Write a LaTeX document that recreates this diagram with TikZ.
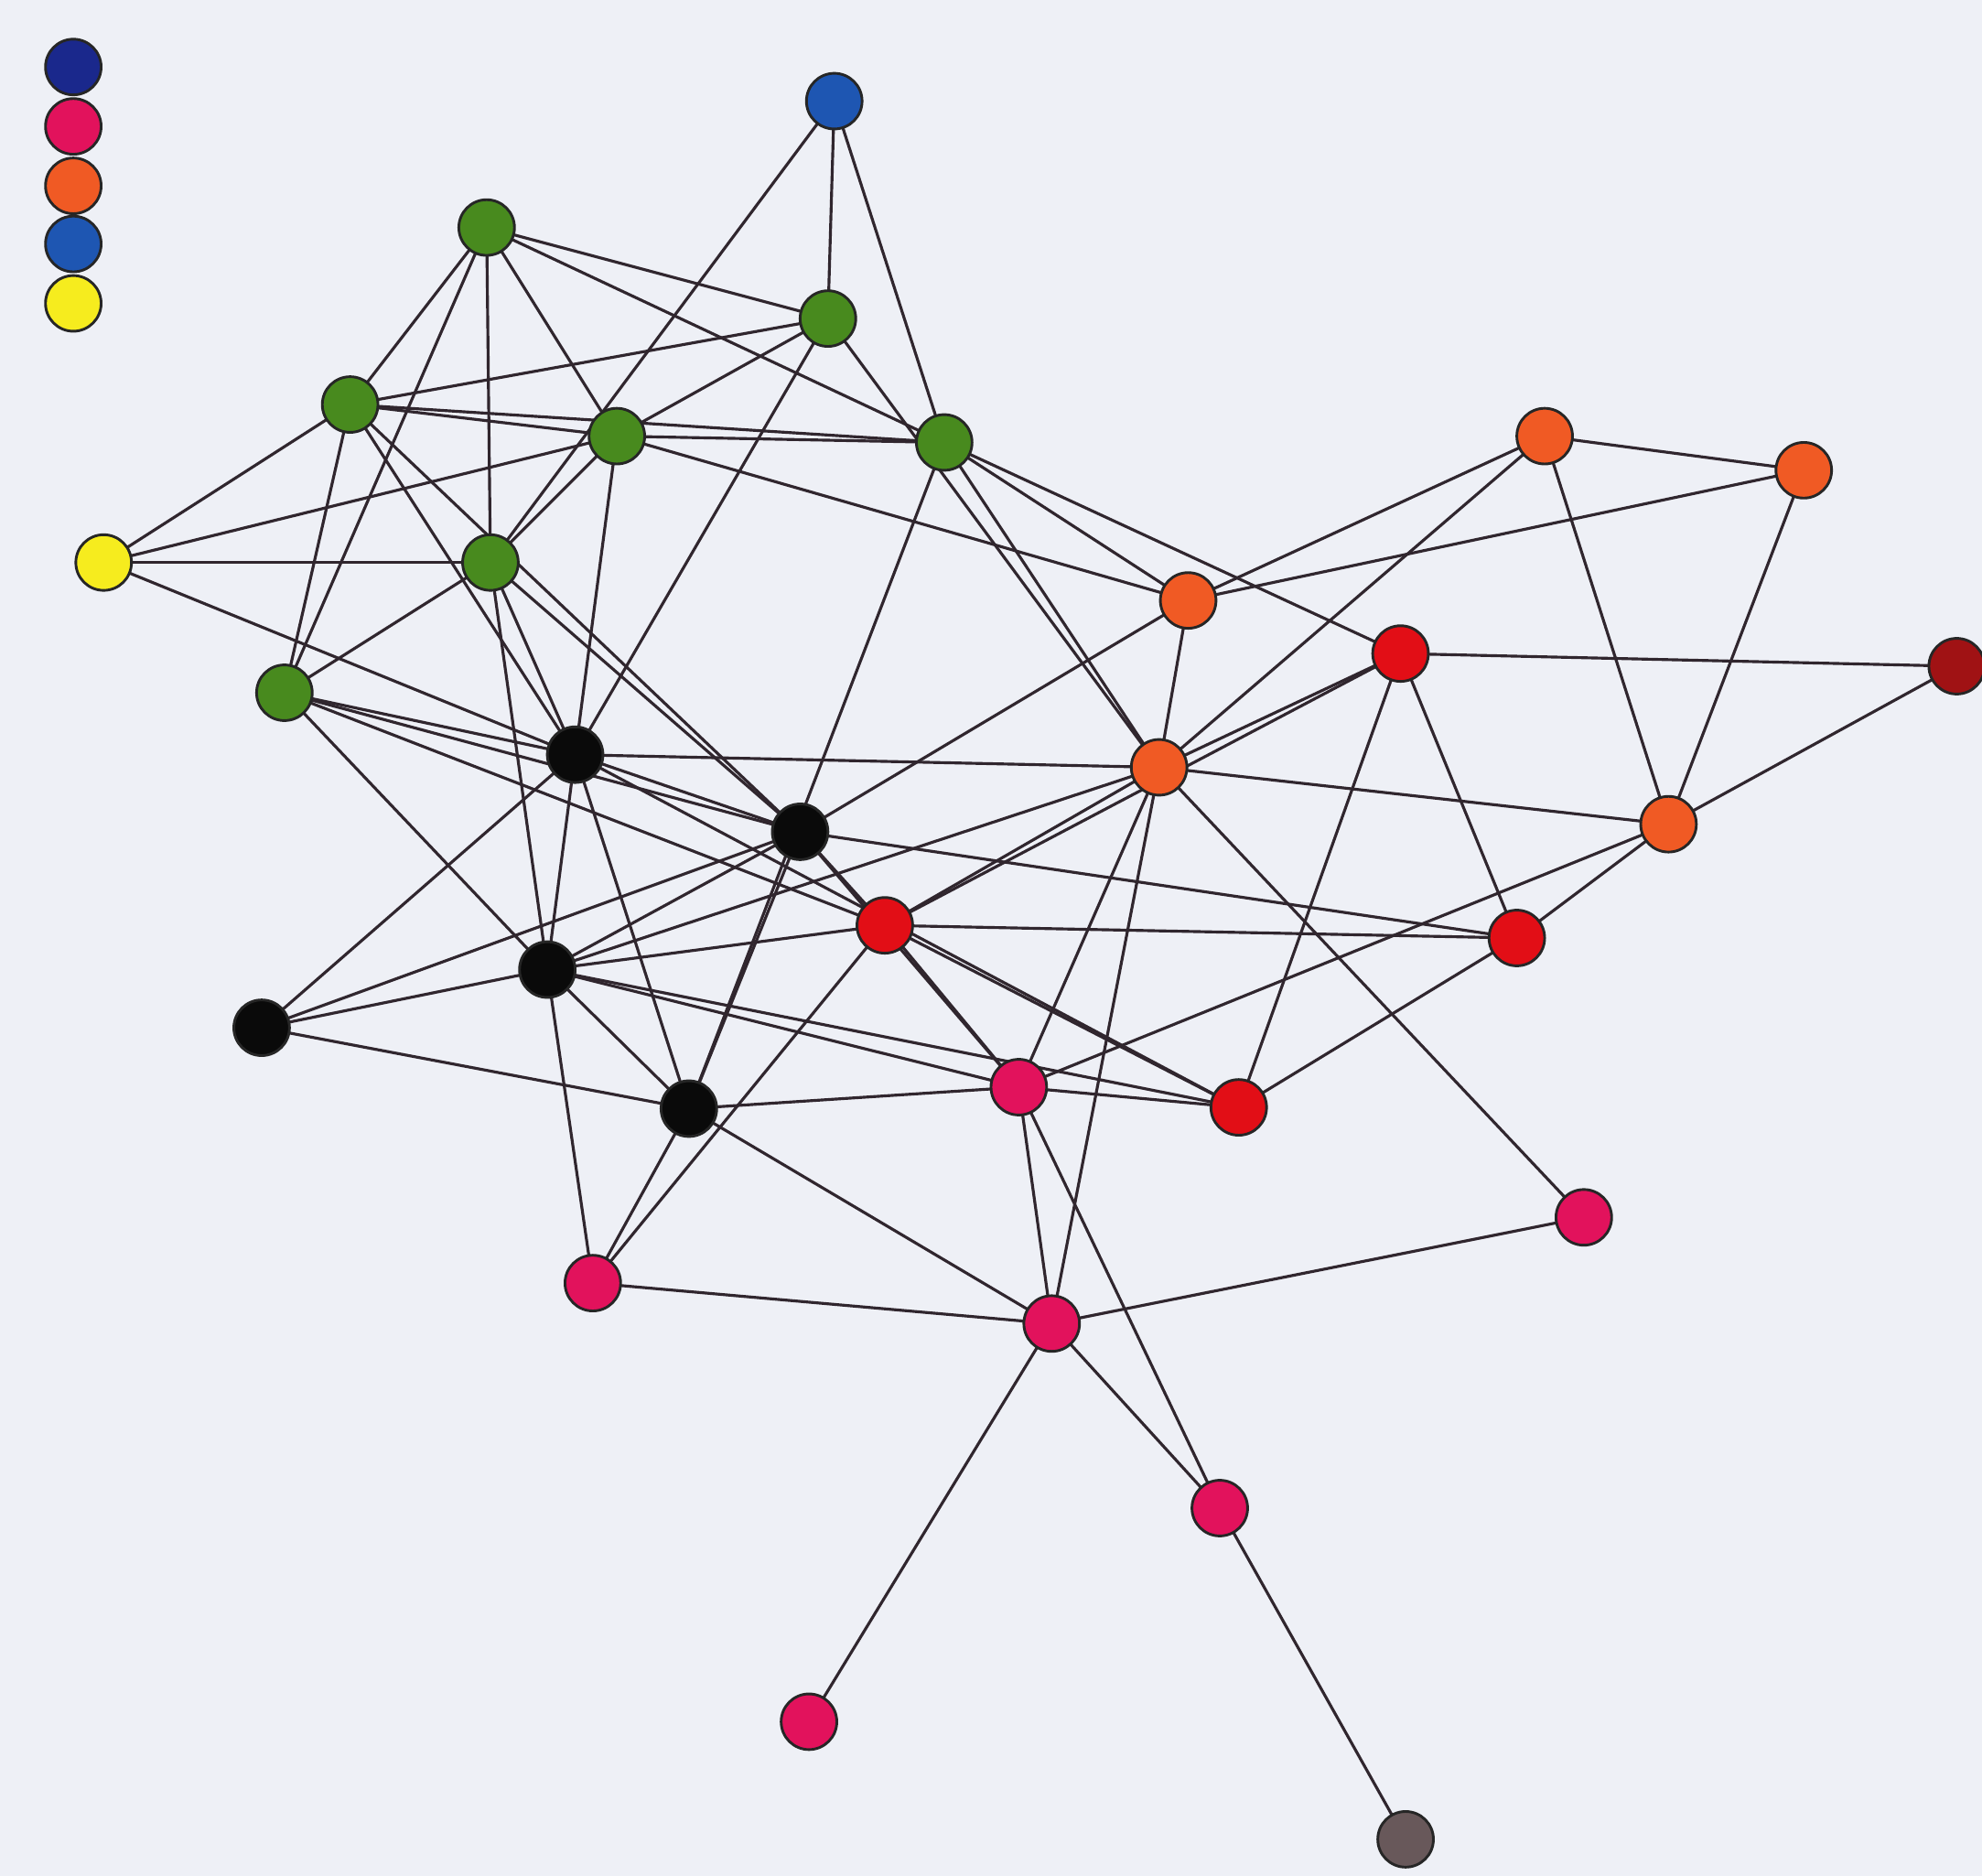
\documentclass[tikz,border=0pt]{standalone}
\usepackage{tikz}
\usetikzlibrary{backgrounds}
\definecolor{paper}{RGB}{238,240,246}
\definecolor{linkcol}{RGB}{48,38,46}
\definecolor{navyc}{RGB}{26,40,140}
\definecolor{pinkc}{RGB}{226,18,92}
\definecolor{orangec}{RGB}{240,90,36}
\definecolor{bluec}{RGB}{30,86,178}
\definecolor{yellowc}{RGB}{246,236,30}
\definecolor{greenc}{RGB}{72,138,30}
\definecolor{redc}{RGB}{226,14,22}
\definecolor{darkredc}{RGB}{160,18,20}
\definecolor{blackc}{RGB}{10,10,10}
\definecolor{greyc}{RGB}{104,88,90}

\begin{document}
\begin{tikzpicture}[x=0.01cm, y=-0.01cm, line join=round,
    dot/.style={circle, draw=black!85, line width=0.6pt, minimum size=0.44cm, inner sep=0pt, fill=#1},
    link/.style={draw=linkcol, line width=0.65pt}]
  \useasboundingbox (0,0) rectangle (1568,1484);

  % legend
  \node[dot=navyc]   (leg1) at (58,53)  {};
  \node[dot=pinkc]   (leg2) at (58,100) {};
  \node[dot=orangec] (leg3) at (58,147) {};
  \node[dot=bluec]   (leg4) at (58,193) {};
  \node[dot=yellowc] (leg5) at (58,240) {};

  % network
  \node[dot=bluec]    (bl) at (660,80)   {};
  \node[dot=greenc]   (g1) at (385,180)  {};
  \node[dot=greenc]   (g2) at (655,252)  {};
  \node[dot=greenc]   (g3) at (277,320)  {};
  \node[dot=greenc]   (g4) at (488,345)  {};
  \node[dot=greenc]   (g5) at (747,350)  {};
  \node[dot=greenc]   (g6) at (388,445)  {};
  \node[dot=greenc]   (g7) at (225,548)  {};
  \node[dot=yellowc]  (y)  at (82,445)   {};
  \node[dot=orangec]  (o1) at (1222,345) {};
  \node[dot=orangec]  (o2) at (1427,372) {};
  \node[dot=orangec]  (o3) at (940,475)  {};
  \node[dot=orangec]  (o4) at (917,607)  {};
  \node[dot=orangec]  (o5) at (1320,652) {};
  \node[dot=redc]     (r1) at (1108,517) {};
  \node[dot=redc]     (r2) at (700,732)  {};
  \node[dot=redc]     (r3) at (1200,742) {};
  \node[dot=redc]     (r4) at (980,876)  {};
  \node[dot=darkredc] (dr) at (1548,527) {};
  \node[dot=blackc]   (b1) at (455,597)  {};
  \node[dot=blackc]   (b2) at (633,658)  {};
  \node[dot=blackc]   (b3) at (433,767)  {};
  \node[dot=blackc]   (b4) at (207,813)  {};
  \node[dot=blackc]   (b5) at (545,877)  {};
  \node[dot=pinkc]    (p1) at (806,860)  {};
  \node[dot=pinkc]    (p2) at (1253,963) {};
  \node[dot=pinkc]    (p3) at (469,1015) {};
  \node[dot=pinkc]    (p4) at (832,1047) {};
  \node[dot=pinkc]    (p5) at (965,1193) {};
  \node[dot=pinkc]    (p6) at (640,1362) {};
  \node[dot=greyc]    (gr) at (1112,1455) {};

  \begin{scope}[on background layer]
    \fill[paper] (0,0) rectangle (1568,1484);
    \foreach \a/\b in {bl/g2, bl/g5, bl/g6,
        g1/g2, g1/g3, g1/g4, g1/g5, g1/g6, g1/g7,
        g2/g3, g2/g4, g2/b1, g2/o4,
        g3/g4, g3/g5, g3/y, g3/g7, g3/b1, g3/b2,
        g4/g5, g4/g6, g4/y, g4/b1, g4/o3,
        g5/o3, g5/o4, g5/r1, g5/b5,
        g6/y, g6/g7, g6/b1, g6/b2, g6/b3,
        g7/b1, g7/b2, g7/b3, g7/r2, y/b1,
        o1/o2, o1/o3, o1/o4, o1/o5, o2/o3, o2/o5,
        o3/o4, o3/b2,
        o4/r1, o4/o5, o4/b1, o4/p2, o4/r2, o4/p4, o4/p1, o4/b3,
        o5/dr, o5/r3, o5/p1,
        r1/dr, r1/r3, r1/r4, r1/r2,
        r2/r3, r2/b2, r2/b3, r2/p1, r2/p3, r2/r4,
        r3/r4, r3/b2, r4/b3, r4/p1, r4/b1,
        b1/b2, b1/b3, b1/b5, b1/b4,
        b2/b3, b2/b5, b2/p1, b2/b4,
        b3/b4, b3/b5, b3/p3, b3/p1, b4/b5,
        b5/p1, b5/p3, b5/p4,
        p1/p4, p1/p5, p3/p4,
        p4/p2, p4/p5, p4/p6, p5/gr}
      \draw[link] (\a.center) -- (\b.center);
  \end{scope}
\end{tikzpicture}
\end{document}
